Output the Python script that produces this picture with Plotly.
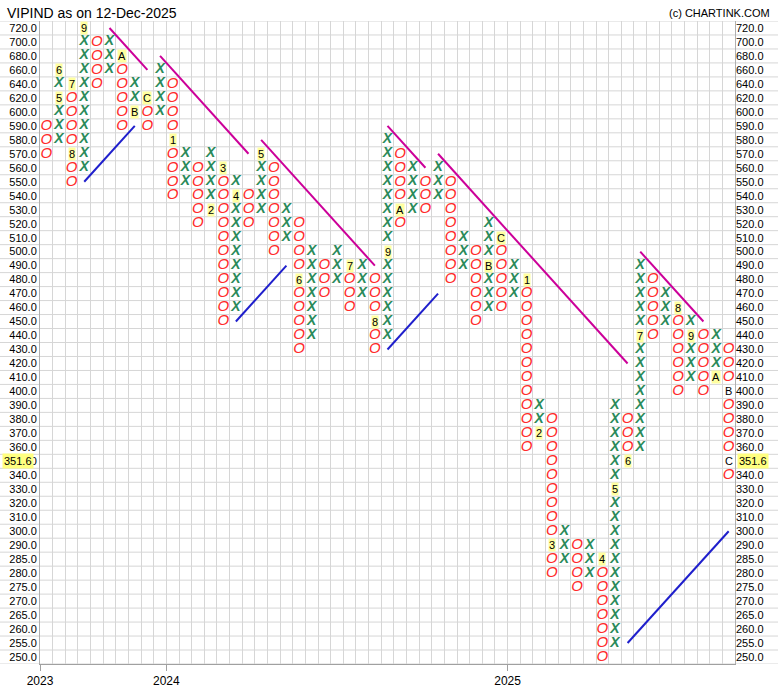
import plotly.graph_objects as go

# price boxes, top to bottom (box size changes at 600 and 290)
PRICE_LEVELS = [720, 700, 680, 660, 640, 620, 600, 590, 580, 570, 560, 550, 540,
                530, 520, 510, 500, 490, 480, 470, 460, 450, 440, 430, 420, 410,
                400, 390, 380, 370, 360, 350, 340, 330, 320, 310, 300, 290, 285,
                280, 275, 270, 265, 260, 255, 250]

# one entry per column of the P&F chart
COL_TYPE = ["O", "X", "O", "X", "O", "X", "O", "X", "O", "X", "O", "X", "O", "X",
            "O", "X", "O", "X", "O", "X", "O", "X", "O", "X", "O", "X", "O", "X",
            "O", "X", "O", "X", "O", "X", "O", "X", "O", "X", "O", "X", "O", "X",
            "O", "X", "O", "X", "O", "X", "O", "X", "O", "X", "O", "X", "O"]
COL_TOP = [590, 660, 640, 720, 700, 700, 680, 640, 620, 660, 640, 570, 560, 570,
           560, 550, 540, 570, 560, 530, 520, 500, 490, 500, 490, 490, 480, 580,
           570, 560, 550, 560, 550, 510, 500, 520, 510, 490, 480, 390, 380, 300,
           290, 290, 285, 390, 380, 490, 480, 470, 460, 450, 440, 440, 430]
COL_BOTTOM = [570, 580, 550, 560, 640, 660, 590, 600, 590, 600, 540, 550, 520, 530,
              450, 460, 520, 530, 500, 510, 430, 440, 470, 480, 460, 470, 430, 440,
              520, 530, 530, 540, 480, 490, 450, 460, 460, 470, 360, 370, 280, 285,
              275, 280, 250, 255, 350, 360, 440, 450, 400, 410, 400, 410, 340]

# month markers (1-9, A=Oct, B=Nov, C=Dec)
MONTH_COL = [1, 1, 2, 2, 3, 6, 7, 8, 10, 13, 14, 15, 17, 20, 24, 26, 27, 28, 35, 36,
             38, 39, 40, 44, 45, 46, 47, 50, 51, 53, 54, 54]
MONTH_PRICE = [620, 660, 640, 570, 720, 680, 600, 620, 580, 530, 560, 540, 570, 480,
               490, 450, 500, 530, 490, 510, 480, 370, 290, 285, 330, 350, 440, 460,
               440, 410, 400, 350]
MONTH_TEXT = ["5", "6", "7", "8", "9", "A", "B", "C", "1", "2", "3", "4", "5", "6",
              "7", "8", "9", "A", "B", "C", "1", "2", "3", "4", "5", "6", "7", "8",
              "9", "A", "B", "C"]

# trend lines
RES_COL_START = [5, 9, 17, 27, 31, 47]
RES_COL_END = [8, 16, 26, 30, 46, 52]
RES_PRICE_START = [720, 680, 580, 590, 570, 500]
RES_PRICE_END = [660, 570, 490, 560, 420, 450]

SUP_COL_START = [3, 15, 27, 46]
SUP_COL_END = [7, 19, 31, 54]
SUP_PRICE_START = [550, 450, 430, 255]
SUP_PRICE_END = [590, 490, 470, 300]

YEAR_POS = [-0.5, 9.5, 36.5]
YEAR_TEXT = ["2023", "2024", "2025"]

LAST_PRICE = 351.6
LAST_BOX = 350

FONT = "Liberation Sans, Arial, sans-serif"
GRID = "#d6d6d6"
X_COLOR = "#2a8a5a"
O_COLOR = "#ff2a2a"
RES_COLOR = "#cc0099"
SUP_COLOR = "#1f1fcc"

n_cols = len(COL_TYPE)
cats = [f"{p:.1f}" for p in PRICE_LEVELS[::-1]]  # bottom -> top
row_of = {p: i for i, p in enumerate(PRICE_LEVELS[::-1])}
label_boxes = set(zip(MONTH_COL, MONTH_PRICE))

xs_x, xs_y, os_x, os_y = [], [], [], []
for c in range(n_cols):
    for p in PRICE_LEVELS:
        if COL_BOTTOM[c] <= p <= COL_TOP[c] and (c, p) not in label_boxes:
            if COL_TYPE[c] == "X":
                xs_x.append(c)
                xs_y.append(f"{p:.1f}")
            else:
                os_x.append(c)
                os_y.append(f"{p:.1f}")


def segments(c0, c1, p0, p1):
    lx, ly = [], []
    for a, b, u, v in zip(c0, c1, p0, p1):
        lx += [a, b, None]
        ly += [f"{u:.1f}", f"{v:.1f}", None]
    return lx, ly


fig = go.Figure()

# invisible traces so both y axes know every price box
fig.add_trace(go.Scatter(x=[0] * len(cats), y=cats, mode="markers",
                         marker=dict(opacity=0), hoverinfo="skip", showlegend=False))
fig.add_trace(go.Scatter(x=[0] * len(cats), y=cats, mode="markers", xaxis="x2", yaxis="y2",
                         marker=dict(opacity=0), hoverinfo="skip", showlegend=False))

rx, ry = segments(RES_COL_START, RES_COL_END, RES_PRICE_START, RES_PRICE_END)
sx, sy = segments(SUP_COL_START, SUP_COL_END, SUP_PRICE_START, SUP_PRICE_END)
fig.add_trace(go.Scatter(x=rx, y=ry, mode="lines", line=dict(color=RES_COLOR, width=2),
                         hoverinfo="skip", showlegend=False))
fig.add_trace(go.Scatter(x=sx, y=sy, mode="lines", line=dict(color=SUP_COLOR, width=2),
                         hoverinfo="skip", showlegend=False))

fig.add_trace(go.Scatter(x=xs_x, y=xs_y, mode="text", text=["X"] * len(xs_x),
                         textfont=dict(family=FONT, size=14, color=X_COLOR,
                                       style="italic", weight="bold"),
                         showlegend=False))
fig.add_trace(go.Scatter(x=os_x, y=os_y, mode="text", text=["O"] * len(os_x),
                         textfont=dict(family=FONT, size=15, color=O_COLOR,
                                       style="italic"),
                         showlegend=False))

annotations = []
for c, p, t in zip(MONTH_COL, MONTH_PRICE, MONTH_TEXT):
    annotations.append(dict(
        x=c, y=row_of[p], xref="x", yref="y", text=t, showarrow=False,
        font=dict(family=FONT, size=11, color="#000"),
        bgcolor="rgba(0,0,0,0)" if c == n_cols - 1 else "#ffffa0",
        borderpad=0,
    ))

# current price highlight on both sides
annotations.append(dict(x=-38 / 695, y=row_of[LAST_BOX], xref="paper", yref="y",
                        xanchor="left", text=f"{LAST_PRICE:.1f}", showarrow=False,
                        font=dict(family=FONT, size=11, color="#000"),
                        bgcolor="#ffff80", borderpad=1))
annotations.append(dict(x=1 + 2 / 695, y=row_of[LAST_BOX], xref="paper", yref="y",
                        xanchor="left", text=f"{LAST_PRICE:.1f}", showarrow=False,
                        font=dict(family=FONT, size=11, color="#000"),
                        bgcolor="#ffff80", borderpad=1))

annotations.append(dict(x=-35 / 695, y=1.012, xref="paper", yref="paper",
                        xanchor="left", yanchor="middle", text="VIPIND as on 12-Dec-2025",
                        showarrow=False, font=dict(family=FONT, size=14, color="#000")))
annotations.append(dict(x=1 + 37 / 695, y=1.012, xref="paper", yref="paper",
                        xanchor="right", yanchor="middle", text="(c) CHARTINK.COM",
                        showarrow=False, font=dict(family=FONT, size=11, color="#000")))

# horizontal grid running through the label columns too
shapes = []
for i in range(len(cats) + 1):
    shapes.append(dict(type="line", xref="paper", yref="y", x0=-40 / 695, x1=1 + 43 / 695,
                       y0=i - 0.5, y1=i - 0.5, line=dict(color=GRID, width=1), layer="below"))

right_text = ["" if p == LAST_BOX else f"{p:.1f}" for p in PRICE_LEVELS[::-1]]

fig.update_layout(
    width=778,
    height=694,
    margin=dict(l=40, r=43, t=21, b=30, autoexpand=False),
    paper_bgcolor="white",
    plot_bgcolor="white",
    font=dict(family=FONT, size=11, color="#111"),
    showlegend=False,
    annotations=annotations,
    shapes=shapes,
    xaxis=dict(range=[-0.5, n_cols - 0.5], tick0=0.5, dtick=1, showticklabels=False,
               showgrid=True, gridcolor=GRID, zeroline=False, showline=True,
               linecolor="#a0a0a0", mirror=False, ticks="", automargin=False),
    xaxis2=dict(range=[-0.5, n_cols - 0.5], overlaying="x", side="bottom", anchor="y",
                tickmode="array", tickvals=YEAR_POS, ticktext=YEAR_TEXT, ticks="outside",
                ticklen=6, tickcolor="#a0a0a0", showgrid=False, zeroline=False,
                automargin=False, tickfont=dict(family=FONT, size=12, color="#000")),
    yaxis=dict(type="category", categoryorder="array", categoryarray=cats,
               range=[-0.5, len(cats) - 0.5], showgrid=False, zeroline=False,
               showline=True, linecolor="#b0b0b0", mirror=True, ticks="",
               automargin=False, tickfont=dict(family=FONT, size=11, color="#000")),
    yaxis2=dict(type="category", categoryorder="array", categoryarray=cats,
                range=[-0.5, len(cats) - 0.5], overlaying="y", side="right",
                tickmode="array", tickvals=cats, ticktext=right_text,
                showgrid=False, zeroline=False, ticks="", automargin=False,
                tickfont=dict(family=FONT, size=11, color="#000")),
)

# page body has a default 8px margin; drop it so the figure sits at the window origin
fig.write_html("out.html", config={"displayModeBar": False},
               post_script="document.body.style.margin='0px';")
